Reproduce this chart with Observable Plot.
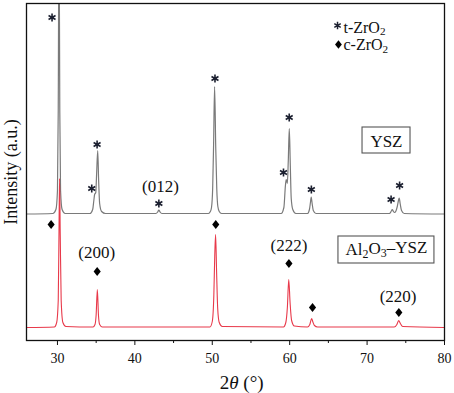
<!DOCTYPE html>
<html>
<head>
<meta charset="utf-8">
<script src="https://cdn.jsdelivr.net/npm/d3@7"></script>
<script src="https://cdn.jsdelivr.net/npm/@observablehq/plot@0.6"></script>
<style>
  html, body { margin: 0; padding: 0; background: #fff; }
  #chart { width: 454px; height: 393px; }
</style>
</head>
<body>
<div id="chart"></div>
<script>
// ---- data (2θ in degrees, intensity in arbitrary units, offset traces) ----
const yszPattern = [
  [26,126.5],[29.4,127],[29.8,131],[30.0,150],[30.1,230],[30.2,420],[30.3,230],[30.4,150],[30.6,131],[31.0,127],
  [34.2,127],[34.55,131],[34.7,140],[34.8,146],[34.95,148],[35.05,165],[35.2,190],[35.32,160],[35.45,137],[35.7,129],[36.2,127],
  [42.7,127],[42.95,128.5],[43.1,130.5],[43.25,128.5],[43.5,127],
  [49.5,127],[49.75,129],[49.9,133],[50.05,152],[50.17,196],[50.3,254],[50.45,192],[50.58,152],[50.72,134],[50.9,129],[51.2,127],
  [58.9,127],[59.25,133],[59.45,155],[59.55,161],[59.7,157],[59.82,180],[59.95,212],[60.08,175],[60.2,142],[60.4,131],[60.8,127],
  [62.3,127],[62.55,131],[62.68,138],[62.78,143.5],[62.9,137],[63.05,130],[63.4,127],
  [72.9,127],[73.1,129],[73.25,131],[73.4,129],[73.55,128],[73.9,134],[74.05,140],[74.15,142.5],[74.27,137],[74.45,130],[74.8,127],
  [80,126.5]
];
const alYszPattern = [
  [26,13],[29.6,13.5],[29.9,18],[30.1,40],[30.2,110],[30.27,162],[30.36,105],[30.48,40],[30.7,18],[31.1,14],
  [34.6,13.5],[34.85,16],[35.0,26],[35.15,51],[35.3,25],[35.45,16],[35.8,13.5],
  [49.7,13.5],[50.0,19],[50.2,45],[50.32,85],[50.43,106],[50.56,68],[50.7,32],[50.9,18],[51.3,14],
  [59.2,13.5],[59.5,18],[59.7,33],[59.88,61],[60.05,38],[60.25,20],[60.6,14.5],
  [62.3,13.5],[62.6,16],[62.83,22],[63.0,18.5],[63.2,15],[63.6,13.5],
  [73.5,13.5],[73.85,16],[74.08,20],[74.3,17],[74.6,14],
  [80,13]
];
const tZrO2Marks = [[29.3,323],[34.43,152],[35.12,196],[43.1,137],[50.35,262],[59.2,168],[59.94,223],[62.8,151],[73.1,141],[74.2,155]];
const cZrO2Marks = [[29.18,116],[35.13,69],[50.45,116],[59.9,77],[62.95,33],[74.1,28]];
const planeLabels = [
  {x:43.3, y:154, text:"(012)"},
  {x:35.07, y:88, text:"(200)"},
  {x:59.9, y:95, text:"(222)"},
  {x:74.0, y:44, text:"(220)"}
];
const legendStar = [[66.18,315]];
const legendDiamond = [[66.3,296]];
const legendTexts = [{x:66.95, y:313, text:"t-ZrO₂"},{x:66.95, y:295.5, text:"c-ZrO₂"}];
const sampleBoxes = [
  {x1:69.41, x2:75.61, y1:187, y2:213, label:"YSZ", lx:72.5, ly:199},
  {x1:66.3, x2:78.7, y1:77, y2:104, label:"Al₂O₃–YSZ", lx:72.5, ly:90.5}
];
const majorTicks = [30,40,50,60,70,80];
const minorTicks = [35,45,55,65,75];
const xTitle = "2θ (°)";
const yTitle = "Intensity (a.u.)";

const diamondSymbol = {
  draw(ctx, size) {
    const h = Math.sqrt(size) * 0.63, w = h * 0.8;
    ctx.moveTo(0, -h); ctx.lineTo(w, 0); ctx.lineTo(0, h); ctx.lineTo(-w, 0); ctx.closePath();
  }
};

const serif = "'Liberation Serif', 'Times New Roman', serif";

const chart = Plot.plot({
  width: 454, height: 393,
  marginLeft: 26, marginRight: 10, marginTop: 3, marginBottom: 53,
  style: {fontFamily: serif, background: "#fff", color: "#111"},
  x: {domain: [26, 80]},
  y: {domain: [0, 337], axis: null},
  marks: [
    Plot.line(yszPattern, {x: d => d[0], y: d => d[1], stroke: "#7a7a7a", strokeWidth: 1.2, curve: "monotone-x", clip: true}),
    Plot.line(alYszPattern, {x: d => d[0], y: d => d[1], stroke: "#e8394a", strokeWidth: 1.1, curve: "monotone-x", clip: true}),
    Plot.frame({stroke: "#111", strokeWidth: 1.3}),
    Plot.axisX({ticks: majorTicks, tickSize: 5, tickPadding: 8, fontSize: 14, label: null, stroke: "#111"}),
    Plot.axisX({ticks: minorTicks, tickSize: 3, tickFormat: () => "", label: null, stroke: "#111"}),
    Plot.text([xTitle], {frameAnchor: "bottom", x: 53.8, dy: 42, lineAnchor: "middle", fontSize: 19, fill: "#111"}),
    Plot.text([yTitle], {frameAnchor: "left", textAnchor: "middle", rotate: -90, dx: -15, fontSize: 18, fill: "#111"}),
    Plot.dot(tZrO2Marks, {x: d => d[0], y: d => d[1], symbol: "asterisk", r: 3.8, stroke: "#1c2030", strokeWidth: 1.6}),
    Plot.dot(cZrO2Marks, {x: d => d[0], y: d => d[1], symbol: diamondSymbol, r: 4, fill: "#000", stroke: "none"}),
    Plot.text(planeLabels, {x: "x", y: "y", text: "text", fontSize: 17, fill: "#111"}),
    Plot.dot(legendStar, {x: d => d[0], y: d => d[1], symbol: "asterisk", r: 3.5, stroke: "#1c2030", strokeWidth: 1.5}),
    Plot.dot(legendDiamond, {x: d => d[0], y: d => d[1], symbol: diamondSymbol, r: 3.8, fill: "#000", stroke: "none"}),
    Plot.text(legendTexts, {x: "x", y: "y", text: "text", textAnchor: "start", fontSize: 16, fill: "#111"}),
    Plot.rect(sampleBoxes, {x1: "x1", x2: "x2", y1: "y1", y2: "y2", fill: "#fff", stroke: "#555", strokeWidth: 1.1}),
    Plot.text(sampleBoxes, {x: "lx", y: "ly", text: "label", fontSize: 17, fill: "#111"})
  ]
});

// rich text: subscripts and italic theta
const subs = {"₂": "2", "₃": "3"};
chart.querySelectorAll("text").forEach(t => {
  const s = t.textContent;
  if (!/[₂₃θ]/.test(s)) return;
  while (t.firstChild) t.removeChild(t.firstChild);
  const ns = "http://www.w3.org/2000/svg";
  let shifted = false;
  for (const ch of s) {
    const sp = document.createElementNS(ns, "tspan");
    if (subs[ch]) {
      sp.textContent = subs[ch];
      sp.setAttribute("font-size", "70%");
      sp.setAttribute("dy", "0.25em");
      shifted = true;
    } else {
      sp.textContent = ch;
      if (shifted) { sp.setAttribute("dy", "-0.25em"); shifted = false; }
      if (ch === "θ") sp.setAttribute("font-style", "italic");
    }
    t.appendChild(sp);
  }
});

document.getElementById("chart").appendChild(chart);
</script>
</body>
</html>
